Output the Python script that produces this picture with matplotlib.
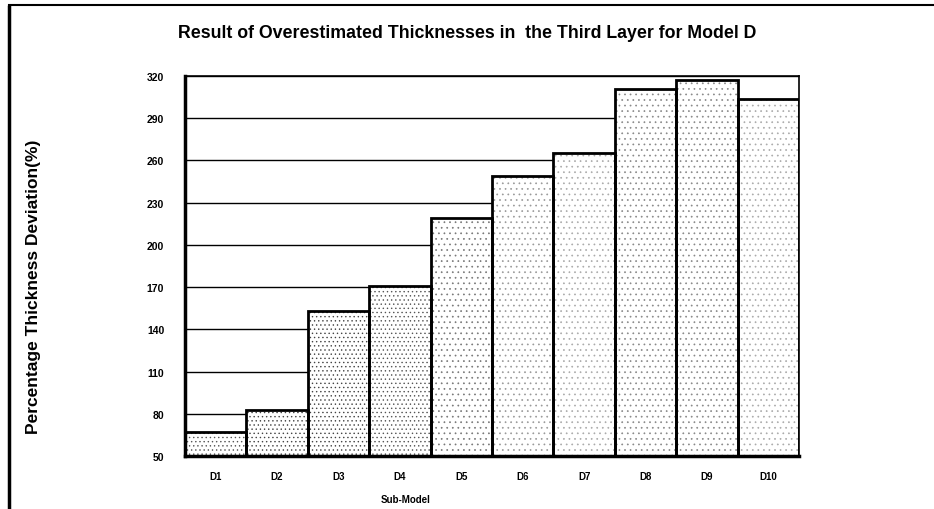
import matplotlib
matplotlib.use("Agg")
import matplotlib.pyplot as plt
from matplotlib.lines import Line2D

categories = ["D1", "D2", "D3", "D4", "D5", "D6", "D7", "D8", "D9", "D10"]
values = [67, 83, 153, 171, 219, 249, 265, 311, 317, 304]
yticks = [50, 80, 110, 140, 170, 200, 230, 260, 290, 320]
hatches = ["....", "....", "....", "....", "...", "...", "...", "...", "...", "..."]
hatch_colors = ["#555555", "#444444", "#444444", "#555555", "#777777",
                "#999999", "#aaaaaa", "#888888", "#888888", "#aaaaaa"]

plt.rcParams['font.family'] = ['Liberation Sans', 'DejaVu Sans']
plt.rcParams['hatch.linewidth'] = 0.5

fig = plt.figure(figsize=(9.34, 5.10), dpi=100)
ax = fig.add_axes([185/934, 1 - 457/510, (799-185)/934, (457-77)/510])

ax.set_ylim(50, 320)
ax.set_xlim(-0.5, len(categories) - 0.5)
ax.set_yticks(yticks)
ax.yaxis.grid(True, color='black', linewidth=1.0)
ax.set_axisbelow(True)

x = list(range(len(categories)))
# texture layer
tex = ax.bar(x, values, width=1.0, color='white', edgecolor=hatch_colors,
             linewidth=0, zorder=3)
for b, h in zip(tex, hatches):
    b.set_hatch(h)
# outline layer
ax.bar(x, values, width=1.0, fill=False, edgecolor='black', linewidth=2.0, zorder=4)

ax.set_xticks(x)
ax.set_xticklabels(categories, fontsize=7, fontweight='bold')
for lbl in ax.get_yticklabels():
    lbl.set_fontsize(7.5)
    lbl.set_fontweight('bold')
ax.tick_params(axis='y', length=0, pad=15)
ax.tick_params(axis='x', length=0, pad=11)

for s in ['left', 'bottom']:
    ax.spines[s].set_linewidth(2.5)
for s in ['top', 'right']:
    ax.spines[s].set_linewidth(1.2)
for s in ax.spines.values():
    s.set_zorder(5)

fig.text(406/934, 1 - 500/510, "Sub-Model", ha='center', va='center',
         fontsize=7, fontweight='bold')
fig.text(34/934, 1 - 287/510, "Percentage Thickness Deviation(%)", rotation=90,
         ha='center', va='center', fontsize=12.5, fontweight='bold')
fig.text(467/934, 1 - 34/510,
         "Result of Overestimated Thicknesses in  the Third Layer for Model D",
         ha='center', va='center', fontsize=12.8, fontweight='bold')

fig.add_artist(Line2D([9/934, 9/934], [0, 1 - 8/510], transform=fig.transFigure,
                      color='black', linewidth=2.5))
fig.add_artist(Line2D([9/934, 1.0], [1 - 6/510, 1 - 6/510], transform=fig.transFigure,
                      color='black', linewidth=1.5))

fig.savefig("out.png", dpi=100)
